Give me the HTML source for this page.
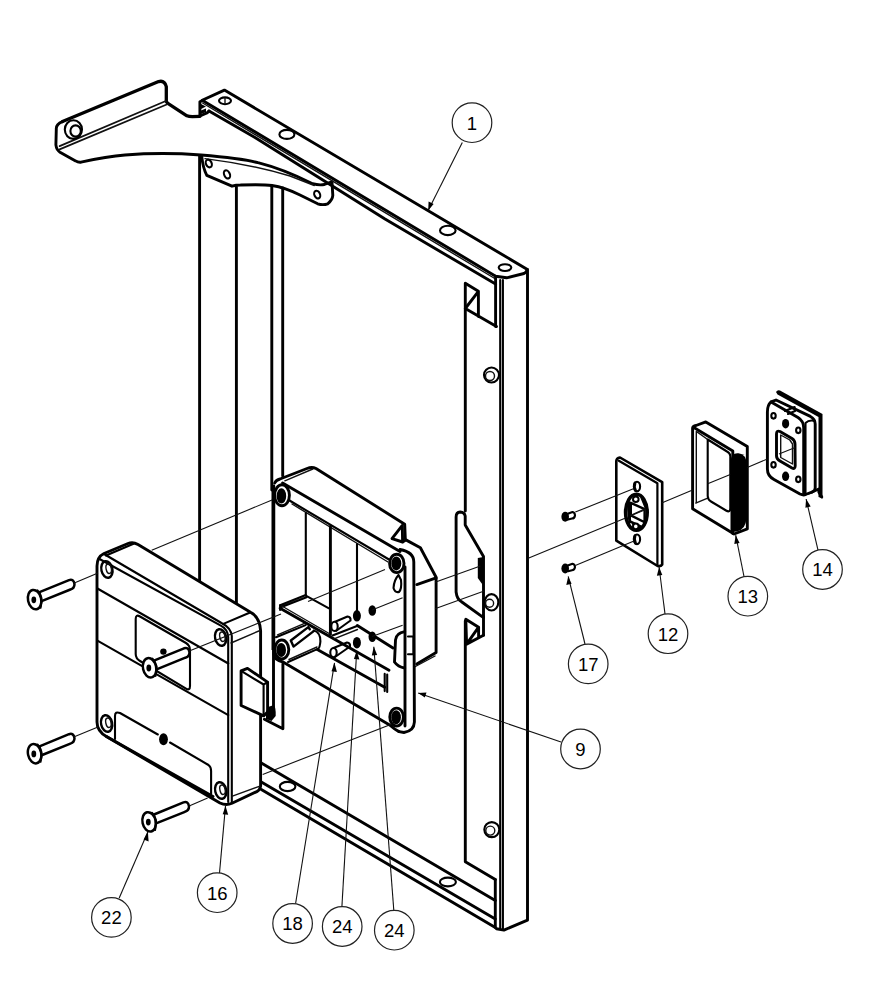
<!DOCTYPE html>
<html><head><meta charset="utf-8"><title>Exploded view</title>
<style>
html,body{margin:0;padding:0;background:#fff;}
body{width:893px;height:993px;overflow:hidden;}
svg{display:block;}
.k{fill:none;stroke:#000;stroke-width:2.9;stroke-linejoin:round;stroke-linecap:round;}
.m{fill:none;stroke:#000;stroke-width:2.1;stroke-linejoin:round;stroke-linecap:round;}
.t{fill:none;stroke:#111;stroke-width:1.4;stroke-linejoin:round;stroke-linecap:round;}
.l{fill:none;stroke:#111;stroke-width:1.1;}
.w{fill:#fff;}
.f{fill:#000;stroke:none;}
.c{fill:#fff;stroke:#222;stroke-width:1.2;}
text{font-family:"Liberation Sans",sans-serif;font-size:18.5px;fill:#000;text-anchor:middle;}
</style></head>
<body>
<svg width="893" height="993" viewBox="0 0 893 993">

<!-- ===== TOP ARM BRACKET ===== -->
<g id="arm">
<path class="k" style="stroke-width:3.3" d="M62.5,121.6 L158.6,81.6 Q164.5,80 166.3,86.6 L166.3,101.5 Q167,103 169,104.2 L186.9,115.8 Q189,116.7 192.3,116.7 L199.9,116.3"/>
<path class="k" d="M62.5,121.6 Q56,124 56.3,129 L55.9,144.9 Q56.5,150 60,152.2 L75.6,160.9 Q78,162.5 81,162.2 C95,159 110,156 125,155 C150,153 175,153 201,155 C225,157 245,159 258,162.7 C275,167 295,175 312.6,183.7 Q319,185.5 324.4,184.5 L331.1,182"/>
<path class="t" d="M59.6,146.1 L165.8,101 M59.6,149.4 L167.3,104.3" style="stroke-width:1.7"/>
<ellipse class="m" cx="73.4" cy="129.6" rx="8.6" ry="9.3"/>
<ellipse class="m" cx="75.6" cy="131" rx="5.2" ry="5.6"/>
</g>

<!-- ===== BRACKET PLATE under top rail ===== -->
<g id="plate">
<path class="k" d="M201.8,156.8 Q203,168 206.8,175.3 L232,186.2 Q236,185 240.4,185 C255,184.5 265,184.5 272,185.5 C282,187 292,191 300,195 L317.7,203.8 Q323,205.5 327.7,203.8 Q332.5,200 332.8,195.4 L332,182"/>
<path class="t" d="M205,158.6 C240,163 270,170 290,176 L314.3,185.5"/>
<ellipse class="m" cx="208.8" cy="163.5" rx="2.8" ry="4" transform="rotate(-25 208.8 163.5)"/>
<ellipse class="m" cx="227" cy="174.4" rx="2.8" ry="4.3" transform="rotate(-25 227 174.4)"/>
<ellipse class="m" cx="317.2" cy="194.6" rx="2.8" ry="4" transform="rotate(-25 317.2 194.6)"/>
</g>

<!-- ===== POSTS ===== -->
<g id="posts">
<path class="k" d="M199.6,156 L199.6,581"/>
<path class="k" d="M236.4,187 L236.4,602.3"/>
<path class="k" d="M271.8,186 L271.8,490"/><path d="M273.6,490 L273.6,650" stroke="#000" stroke-width="4.2"/>
<path class="k" d="M282.7,188 L282.7,476"/>
<path class="k" d="M273.5,500 L273.5,713"/>
<path class="k" d="M282.9,664 L282.9,728.8 L264.4,719.2"/>
</g>

<!-- ===== TOP RAIL ===== -->
<g id="toprail">
<path class="k" d="M202.2,100.2 L224.4,90.1 L527,269.2 Q527,272 524,273.5 L506.6,277.8 L495.6,276.2 L202.2,100.2 Z"/>
<path class="t" d="M202.6,103 L495.6,279"/>
<path class="k" d="M209,111 L255,137.6 L385,219 L495.6,284.1"/>
<path class="k" d="M203,100.2 L199.9,101.8 L199.9,116 L207.5,112.6 L209,111"/><path class="f" d="M201,104 L206,106.5 L201,109 Z M201,110.5 L206,108.5 L206,112 L201,114 Z"/>
<ellipse class="m" cx="225" cy="100.8" rx="6" ry="3.4"/><path class="t" d="M225,98 L225,103.5"/>
<ellipse class="m" cx="286.9" cy="134.4" rx="7.5" ry="4.5"/>
<ellipse class="m" cx="447.8" cy="230.4" rx="7.8" ry="4.7"/>
<ellipse class="m" cx="505" cy="267.6" rx="6.3" ry="3.4"/>
</g>

<!-- ===== RIGHT RAIL ===== -->
<g id="rightrail">
<path class="k" d="M527.5,269.5 L527.5,920.2 L503.9,930.1 L496.5,928.8"/>
<path class="m" d="M500.2,280 L500.2,928"/>
<path class="m" d="M502.9,280 L502.9,930"/>
<path class="k" d="M495.6,276.2 L495.6,326.6"/>
<path class="k" d="M495.3,879.6 L495.3,927.6"/>
<!-- channel inner line -->
<path class="k" d="M465.3,284 L465.3,511"/>
<path class="k" d="M465.3,621 L465.3,861.7 L495.3,879.6"/>
<!-- notch -->
<path class="k" d="M465.3,283.3 L478.4,291.3 L478.4,316.5 M478.4,291.3 L465.3,308.5 L496.5,326.6"/>
<!-- nubs -->
<circle class="m" cx="491.5" cy="375" r="7.5"/><circle class="t" cx="490" cy="376" r="4.5"/>
<circle class="m" cx="491.8" cy="829.6" r="7.5"/><circle class="t" cx="490.3" cy="830.6" r="4.5"/>
<ellipse class="m" cx="491.5" cy="602.3" rx="6.8" ry="8.2"/><circle class="t" cx="489.6" cy="603.2" r="4"/>
<!-- latch plate (keeper) -->
<path class="k" d="M465.2,525 L465.2,516 Q464.5,512.3 460.2,512 Q456.1,512.3 456.1,517 L456.1,592 Q457,599.5 461.5,601.8 L483.5,617.6 L483.5,556.4 L465.2,525"/>
<path class="f" d="M477.8,558 L483.5,557 L483.5,586 L477.8,578 Z"/>
<path class="k" d="M483.5,617 L483.5,635.3"/>
<path class="k" d="M465.8,619.2 L478.6,627.2 L466.6,644.1 Z M478.6,627.2 L478.6,637 M466.6,644.1 L483.5,635.3"/>
</g>

<!-- ===== BOTTOM RAIL ===== -->
<g id="bottomrail">
<path class="k" d="M261.3,763 L495.3,900.5"/>
<path class="k" d="M261.3,782 L495.3,919"/>
<path class="k" d="M261.3,789.5 L495.3,927.6"/>
<ellipse class="m" cx="287.6" cy="786.5" rx="7.8" ry="4.6"/>
<ellipse class="m" cx="447.9" cy="882" rx="8" ry="4.4"/>
</g>



<!-- ===== LOCK BOX 16 ===== -->
<g id="lockbox">
<path class="w" d="M97,566 Q97,557 104,553.5 L128,543.5 Q133,541.5 138,544.5 L250.5,612.3 Q259.6,617 260.6,630.5 L260.6,786 Q260,790 256.8,791.6 L232,803.3 Q226,806 220,803 L106.4,736.6 Q97,731 97,722 Z"/>
<path class="k" d="M97,566 Q97,557 104,553.5 L128,543.5 Q133,541.5 138,544.5 L250.5,612.3 Q259.6,617 260.6,630.5 L260.6,786 Q260,790 256.8,791.6 L232,803.3 Q226,806 220,803 L106.4,736.6 Q97,731 97,722 Z"/>
<path class="m" d="M106,555.5 L133.5,543.8"/><path class="m" d="M104,554 L222.3,623.5 Q231,628 231.8,636 L231.8,803"/>
<path class="m" d="M99.5,559 L220.4,625.4 Q227.6,629 228.2,637 L228.2,802"/><path class="t" d="M232.4,796.2 L259.9,786.1"/>
<path class="m" d="M223.3,623.9 L249.5,612.8"/><path class="t" d="M231,643 L260,630.5"/>
<!-- band lines -->
<path class="m" d="M97.4,588.5 L228.3,663.5 M97.4,640.6 L228.3,715.1"/>
<!-- window -->
<path class="m" d="M135.7,619 Q135.7,614 140,616.5 L186,643 Q190,645.5 190,650 L190,686 Q190,691 186,688.6 L140,661 Q135.7,658.5 135.7,654 Z"/>
<!-- spindle -->
<circle class="f" cx="163.4" cy="651.6" r="3.2"/>
<g transform="translate(115,68.2)">
<path class="w" d="M39.5,592.2 L69,580.1 Q73.5,578.5 74.5,584 Q74.5,588.5 70.4,589.5 L42.2,600.9 Z"/>
<path class="k" d="M39.5,592.2 L69,580.1 Q73.5,578.5 74.5,584 Q74.5,588.5 70.4,589.5 L42.2,600.9" style="stroke-width:2.5"/>
<ellipse class="k" cx="34.6" cy="599.6" rx="6.6" ry="9.8" transform="rotate(-12 34.6 599.6)" style="fill:#fff;stroke-width:2.5"/>
<path class="k" d="M37.5,590.5 Q43.5,596 40.5,607.6" style="stroke-width:2.2"/>
<ellipse class="f" cx="33.8" cy="599.8" rx="2.4" ry="3.4"/>
</g>
<!-- cover plate -->
<path class="m" d="M115,739 L115,716 Q115,711 120,713 L157.8,734.5 M170,742.5 L208.5,765 Q211.1,767 211.1,771 L211.1,794"/>
<ellipse class="f" cx="163.5" cy="739.2" rx="4.4" ry="6"/>
<path class="k" d="M106.4,736.6 L213,796.6"/>
<!-- holes -->
<ellipse class="k" cx="106.9" cy="569.5" rx="5.5" ry="8.4" transform="rotate(-12 106.9 569.5)" style="stroke-width:2.4"/><ellipse class="t" cx="108.7" cy="568.7" rx="2.6" ry="4.8" transform="rotate(-12 108.7 568.7)"/>
<ellipse class="k" cx="220.6" cy="637.5" rx="5.5" ry="8.4" transform="rotate(-12 220.6 637.5)" style="stroke-width:2.4"/><ellipse class="t" cx="222.4" cy="636.7" rx="2.6" ry="4.8" transform="rotate(-12 222.4 636.7)"/>
<ellipse class="k" cx="106.6" cy="723.5" rx="5.5" ry="8.4" transform="rotate(-12 106.6 723.5)" style="stroke-width:2.4"/><ellipse class="t" cx="108.4" cy="722.7" rx="2.6" ry="4.8" transform="rotate(-12 108.4 722.7)"/>
<ellipse class="k" cx="220.7" cy="790.5" rx="5.5" ry="8.4" transform="rotate(-12 220.7 790.5)" style="stroke-width:2.4"/><ellipse class="t" cx="222.5" cy="789.7" rx="2.6" ry="4.8" transform="rotate(-12 222.5 789.7)"/>
<!-- latch -->
<path class="w" d="M241.1,670.9 L247.5,668.4 L267.6,682.1 L267.6,712 L263.6,715.9 L241.1,705.5 Z"/>
<path class="k" d="M241.1,670.9 L247.5,668.4 L267.6,682.1 L267.6,712 L263.6,715.9 L241.1,705.5 Z"/>
<path class="m" d="M241.1,670.9 L263.6,684.5 L263.6,715.9 M263.6,684.5 L267.6,682.1"/>
<path class="f" d="M268,707 L274,705 Q276,708 275.7,716 L271.5,721 L266,719 L266,712 Z"/>
</g>

<!-- ===== SCREWS ===== -->

<g>
<path class="w" d="M39.5,592.2 L69,580.1 Q73.5,578.5 74.5,584 Q74.5,588.5 70.4,589.5 L42.2,600.9 Z"/>
<path class="k" d="M39.5,592.2 L69,580.1 Q73.5,578.5 74.5,584 Q74.5,588.5 70.4,589.5 L42.2,600.9" style="stroke-width:2.5"/>
<ellipse class="k" cx="34.6" cy="599.6" rx="6.6" ry="9.8" transform="rotate(-12 34.6 599.6)" style="fill:#fff;stroke-width:2.5"/>
<path class="k" d="M37.5,590.5 Q43.5,596 40.5,607.6" style="stroke-width:2.2"/>
<ellipse class="f" cx="33.8" cy="599.8" rx="2.4" ry="3.4"/>
</g>
<g transform="translate(0,154.1)">
<path class="w" d="M39.5,592.2 L69,580.1 Q73.5,578.5 74.5,584 Q74.5,588.5 70.4,589.5 L42.2,600.9 Z"/>
<path class="k" d="M39.5,592.2 L69,580.1 Q73.5,578.5 74.5,584 Q74.5,588.5 70.4,589.5 L42.2,600.9" style="stroke-width:2.5"/>
<ellipse class="k" cx="34.6" cy="599.6" rx="6.6" ry="9.8" transform="rotate(-12 34.6 599.6)" style="fill:#fff;stroke-width:2.5"/>
<path class="k" d="M37.5,590.5 Q43.5,596 40.5,607.6" style="stroke-width:2.2"/>
<ellipse class="f" cx="33.8" cy="599.8" rx="2.4" ry="3.4"/>
</g>
<g transform="translate(114.5,222.3)">
<path class="w" d="M39.5,592.2 L69,580.1 Q73.5,578.5 74.5,584 Q74.5,588.5 70.4,589.5 L42.2,600.9 Z"/>
<path class="k" d="M39.5,592.2 L69,580.1 Q73.5,578.5 74.5,584 Q74.5,588.5 70.4,589.5 L42.2,600.9" style="stroke-width:2.5"/>
<ellipse class="k" cx="34.6" cy="599.6" rx="6.6" ry="9.8" transform="rotate(-12 34.6 599.6)" style="fill:#fff;stroke-width:2.5"/>
<path class="k" d="M37.5,590.5 Q43.5,596 40.5,607.6" style="stroke-width:2.2"/>
<ellipse class="f" cx="33.8" cy="599.8" rx="2.4" ry="3.4"/>
</g>
<!-- ===== LOCK HOUSING 9 ===== -->
<g id="housing">
<!-- white backing to hide frame lines behind -->
<path class="w" d="M273.5,488 L311,467.5 L404.7,524.2 L420.4,547.7 L436.1,577.3 L436.1,652.6 L416.8,663.9 L414.4,722 Q412,732 399,732 L283,662 Q273.5,658 273.5,650 Z"/>
<!-- top face -->
<path class="k" d="M274.7,483 Q276,480 280,479 L307,468.5 Q312,466.5 316,468.5 L404.7,524.2 L405.3,538.7"/>
<path class="t" d="M284.8,480.8 L312.8,469"/>
<path class="k" d="M282.6,483 L400,551.5"/>
<path class="m" d="M289.5,500.5 L389,559.5"/>
<path class="t" d="M292,504 L388,562"/>
<!-- notch -->
<path class="k" d="M402.3,525.4 L392,538.7 L402.6,542 Z"/>
<!-- step & side box -->
<path class="k" d="M402.9,541.7 L405.9,539.9 L420.4,547.7 L436.1,577.3 L436.1,652.6 L416.8,663.9"/>
<path class="k" d="M416.8,584.6 L436.1,577.9"/>
<path class="t" d="M414.5,667 L435,656"/>
<!-- front plate right -->
<path class="k" d="M400,549.5 Q413.8,552 413.8,562 L414.4,722 Q414,731 404,732.5 L399,731.6"/>
<path class="k" d="M405,567 L405,726"/>
<!-- left and bottom -->
<path class="k" d="M273.8,486 L273.8,654 Q274,660 283,662 L390,725.3 Q394,729 399,731.6"/>
<path class="k" d="M317.3,649.6 L384.7,687.2"/>
<path class="m" d="M384.7,673.9 L384.7,691.1 M387.2,674.5 L387.2,692"/>
<!-- cylinders -->
<ellipse class="k" cx="282" cy="495.3" rx="7.4" ry="10.5" style="fill:#fff"/>
<ellipse class="f" cx="281.4" cy="495.9" rx="4.8" ry="7.6"/>
<ellipse class="k" cx="396.8" cy="563.4" rx="7.2" ry="9.2" style="fill:#fff"/>
<ellipse class="f" cx="396.3" cy="563.4" rx="5" ry="7"/>
<ellipse class="k" cx="281.8" cy="649.5" rx="7" ry="9.5" style="fill:#fff"/>
<ellipse class="f" cx="281.2" cy="650" rx="4.8" ry="7"/>
<ellipse class="k" cx="396.6" cy="717.1" rx="6.8" ry="9" style="fill:#fff"/>
<ellipse class="f" cx="396.1" cy="717.3" rx="4.8" ry="7.1"/>
<!-- teardrop -->
<path class="m" d="M398.5,575 Q394,580 393.5,588 Q395,593 399,592 Q402,589 401,580 Z"/>
<!-- tongue -->
<path class="k" d="M404.7,631.6 Q396,633 395.5,640 L394.5,662 Q398,667 404.7,668"/>
<path class="m" d="M408,636.5 L413.5,636.5 L413.5,654.2 L408,654.2"/>
<!-- interior walls -->
<path class="m" d="M305.8,513 L305.8,595.1"/>
<path class="k" d="M330.4,526.5 L330.4,634.4"/>
<path class="m" d="M357,544 L357,611.5"/>
<!-- shelf -->
<path class="m" d="M280.1,605.2 L305.8,595.1 M281.5,607 L306.5,597.3"/>
<path class="m" d="M305.8,595.6 L328.5,608.2"/>
<path class="k" d="M280.1,608.2 L389,670.3"/>
<path class="t" d="M281,605.5 L330,634"/>
<path class="m" d="M280.1,605.2 L280.1,610"/>
<path class="m" d="M332.5,635.4 L357,626"/><path class="t" d="M334,638.8 L357.5,629.5"/><path class="k" d="M357.3,625.5 L393,648"/>
<!-- bolt -->
<path class="m" d="M276,637.2 L305.6,625.1"/>
<path class="t" d="M277.5,634.8 L304.5,623.4"/>
<path class="m" d="M313.7,630.5 Q320.5,632 320.4,641.5 Q319.8,647.5 318.4,648.6 L288.1,662"/>
<path class="t" d="M289,659.5 L317,647"/>
<path class="k" d="M290.8,640.5 L308.3,627.1 L309.8,629.3 M290.8,640.5 L293.5,646.6 L313.7,631.1" style="stroke-width:2.4"/>
<!-- pins -->
<path class="m" d="M334.5,622 L347.5,616.5 Q351,617 350.5,620.5 L336,631"/>
<ellipse class="m" cx="334.5" cy="626.4" rx="3.2" ry="4.6" style="fill:#fff"/>
<path class="m" d="M333.5,648 L347,642.5 Q350.5,643 350,646.5 L335,657"/>
<ellipse class="m" cx="333.5" cy="652.6" rx="3.2" ry="4.6" style="fill:#fff"/>
<!-- dark dots -->
<ellipse class="f" cx="356.9" cy="615.8" rx="4" ry="5.8"/>
<ellipse class="f" cx="372.3" cy="610.5" rx="3.8" ry="5.3"/>
<ellipse class="f" cx="356.9" cy="642.7" rx="4" ry="5.8"/>
<ellipse class="f" cx="372.3" cy="636.7" rx="3.8" ry="5.3"/>
</g>


<!-- ===== STRIKE PLATE 12 ===== -->
<g id="p12">
<path class="k" d="M616.3,540.6 L616.3,461 Q616.5,458 620,457.5 L662.2,482.1 L662.2,564.5 Q661,566.5 657.6,566 Z" style="fill:#fff;stroke-width:2.6"/>
<path class="k" d="M618.8,460.7 L657.4,483.3 L657.4,565" style="stroke-width:2.2"/>
<ellipse class="m" cx="637" cy="486.5" rx="3.1" ry="4.8"/><path class="k" d="M635,483 Q633.5,487 635.5,490.5"/>
<ellipse class="m" cx="637" cy="539.3" rx="3.1" ry="4.8"/><path class="k" d="M635,535.8 Q633.5,539.8 635.5,543.3"/>
<ellipse cx="636.4" cy="512.3" rx="10.8" ry="18" fill="#fff" stroke="#000" stroke-width="3.6"/>
<path class="f" d="M628,500 Q626,512 629,524 L631,523 L631,503 Z"/>
<path class="k" d="M630.8,502.8 L644.6,509.1 L644.6,522.3 L630.8,515.4 Z" style="stroke-width:2.4"/>
<path class="t" d="M630.8,515.4 L644.6,509.1"/>
<path class="f" d="M640,497 Q646,500 646.5,508 L644.6,508 Z"/>
<path class="f" d="M628,519 L644.6,527 Q641,530 636,529.5 Z"/>
<circle cx="635.8" cy="499.2" r="2.8" fill="#fff" stroke="#000" stroke-width="2"/>
<circle cx="635.8" cy="526.4" r="2.8" fill="#fff" stroke="#000" stroke-width="2"/>
</g>

<!-- ===== SCREWS 17 ===== -->
<g id="p17">
<path class="m" d="M567,514 L572.5,512 Q575,512.5 575,515.5 Q574.5,518.5 572,518.5 L568,519.5"/>
<ellipse class="f" cx="565.2" cy="516.8" rx="3.8" ry="5"/>
<path class="m" d="M567,565.7 L572.5,563.7 Q575,564.2 575,567.2 Q574.5,570.2 572,570.2 L568,571.2"/>
<ellipse class="f" cx="565.2" cy="568.5" rx="3.8" ry="5"/>
</g>

<!-- ===== PART 13 ===== -->
<g id="p13">
<path class="k" d="M692.6,508.8 L692.6,428 Q693,426 696,425.5 L705.8,421.9 L747.3,446.5 L747.3,528.9 L734.1,534 L692.6,508.8 Z" style="fill:#fff"/>
<path class="k" d="M693.8,427.6 L732.8,450.9 L732.8,533.5"/>
<path class="t" d="M696.3,431.4 L696.3,503.1 M696.3,431.4 L707.7,439.5 M695.7,503.1 L707.7,498.1"/>
<path class="m" d="M707.7,439.5 L707.7,496 Q708,500 711,501.5 L726,510.5 Q730.3,513 730.3,508 L730.3,456 Q730,453 727,451.5 L707.7,439.5"/>
<path class="f" d="M730.5,462 Q731,452.5 738.5,453.3 Q746.5,454.5 746.5,464 L746.5,518 Q746,529 737,531.5 L730.5,532 Z"/>
</g>

<!-- ===== PART 14 ===== -->
<g id="p14">
<path class="f" d="M776,392 Q777.5,389.5 780,390.5 L822.5,414 L822.5,498.6 L818.5,497 L818.5,417 L777.5,394.5 Z"/>
<path class="k" d="M818.8,492 L821.8,497 M805,494 L812,492 L818.8,489"/>
<path class="k" d="M767.4,412 Q767.4,405 771.1,401.9 L776,400 L810.4,416.4 Q815.2,419 815.2,424 L815.2,488 Q815,491 812,492 L805.5,494.5 Q803.5,495.6 800,494 L774,479.5 Q767.4,476 767.4,469 Z" style="fill:#fff"/>
<path class="k" d="M771.1,401.9 L798,417.5 Q803.7,421 803.7,428 L803.7,494"/>
<path class="m" d="M805.5,423 Q809,419.5 815,421 M805.5,423 L805.5,494"/>
<path class="m" d="M785,411 L794.6,407 L795,411 L788,414"/>
<ellipse class="m" cx="773.5" cy="415.8" rx="2.2" ry="2.8"/>
<ellipse class="m" cx="798.3" cy="430.3" rx="2.2" ry="2.8"/>
<ellipse class="m" cx="773.5" cy="464.8" rx="2.2" ry="2.8"/>
<ellipse class="m" cx="798.3" cy="479.3" rx="2.2" ry="2.8"/>
<ellipse class="f" cx="785.6" cy="423.7" rx="3.6" ry="4.8"/>
<ellipse class="f" cx="785.6" cy="476.3" rx="3.6" ry="4.8"/>
<path class="k" d="M776.5,434 Q776.5,430 780,431.5 L792,438.5 Q795,440.5 795,444 L795.2,466 Q795,469.5 792,468 L780,461 Q776.5,459 776.5,456 Z"/>
<path class="t" d="M780.7,435 L789.8,440 L792.5,444 L792.5,464 L780.7,457.5 Z"/>
</g>

<!-- ===== ASSEMBLY / CENTER LINES ===== -->
<g id="assy" class="l">
<path d="M73.7,583.2 L98,573"/>
<path d="M73.7,737.1 L98,727.1"/>
<path d="M189.1,805.9 L207.6,797.9"/>
<path d="M151.7,550.2 L272,500"/>
<path d="M188,651.5 L281,614"/>
<path d="M262.7,774.4 L391.3,724.2"/>
<path d="M372,610 L402.6,597.7"/>
<path d="M372,636.5 L402.6,625.2"/>
<path d="M308,601.5 L385,569.5"/>
<path d="M435,582.2 L480.4,565.9"/>
<path d="M435,608.7 L484.2,591"/>
<path d="M528.2,558.3 L625,518.2 M630.8,515.8 L644.6,510.1 M661.6,502.9 L692.6,490.1 M707.7,483.8 L730.3,474.5 M747.3,467.4 L767.4,459 M779,454 L795.2,447.6"/>
<path d="M575.3,512.1 L634,488.6"/>
<path d="M575.3,565.4 L634,541.1"/>
</g>

<!-- ===== LEADERS ===== -->
<g id="leaders" class="l">
<path d="M462.3,142.5 L428.2,210.4"/>
<path d="M561,742 L418.2,693"/>
<path d="M585,644 L568.2,576.4"/>
<path d="M665,614 L659.1,567"/>
<path d="M744,576.5 L735.7,535.2"/>
<path d="M818,550 L806.1,499"/>
<path d="M119.2,898 L147.9,831.7"/>
<path d="M219.5,873 L225.5,805.9"/>
<path d="M295.6,903.5 L334.5,662.8"/>
<path d="M341.9,906.8 L356.7,650.7"/>
<path d="M393.8,910.2 L373.8,646.7"/>
</g>
<g id="arrows" fill="#000">
<path d="M428.2,210.4 L428.6,201.5 L433.6,204 Z"/>
<path d="M418.2,693 L426.5,692.5 L424.8,697.6 Z"/>
<path d="M568.2,576.4 L566.3,585 L571.6,583.7 Z"/>
<path d="M659.1,567 L656.9,575.7 L662.3,575 Z"/>
<path d="M735.7,535.2 L734.3,544 L739.6,543 Z"/>
<path d="M806.1,499 L805.4,507.8 L810.7,506.6 Z"/>
<path d="M147.9,831.7 L143.6,839.5 L148.6,841.6 Z"/>
<path d="M225.5,805.9 L222.7,814.3 L228.2,814.8 Z"/>
<path d="M334.5,662.8 L331.5,671.2 L336.9,672.1 Z"/>
<path d="M356.7,650.7 L353.9,659.1 L359.4,659.4 Z"/>
<path d="M373.8,646.7 L371.8,655.4 L377.2,655 Z"/>
</g>

<!-- ===== CALLOUTS ===== -->
<g id="callouts">
<circle class="c" cx="472" cy="122.7" r="19.8"/><text x="472" y="129.5">1</text>
<circle class="c" cx="580.5" cy="749" r="19.8"/><text x="580.5" y="755.8">9</text>
<circle class="c" cx="668" cy="633.7" r="19.8"/><text x="668" y="640.5">12</text>
<circle class="c" cx="747.8" cy="596.2" r="19.8"/><text x="747.8" y="603.0">13</text>
<circle class="c" cx="822.5" cy="569.5" r="19.8"/><text x="822.5" y="576.3">14</text>
<circle class="c" cx="217.2" cy="892.7" r="19.8"/><text x="217.2" y="899.5">16</text>
<circle class="c" cx="588.2" cy="663.9" r="19.8"/><text x="588.2" y="670.7">17</text>
<circle class="c" cx="292.6" cy="923.5" r="19.8"/><text x="292.6" y="930.3">18</text>
<circle class="c" cx="111.4" cy="917.4" r="19.8"/><text x="111.4" y="924.2">22</text>
<circle class="c" cx="342.2" cy="926.5" r="19.8"/><text x="342.2" y="933.3">24</text>
<circle class="c" cx="394.3" cy="930.2" r="19.8"/><text x="394.3" y="937.0">24</text>
</g>

</svg>
</body></html>
